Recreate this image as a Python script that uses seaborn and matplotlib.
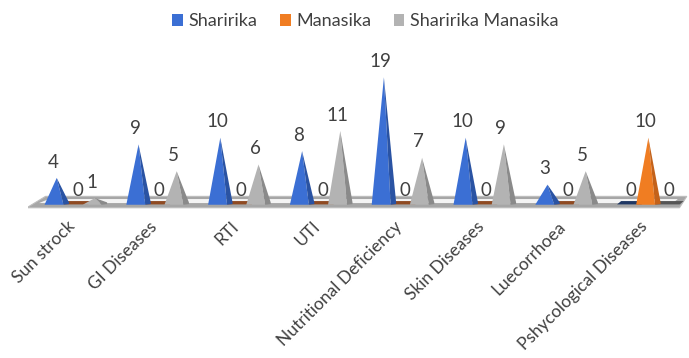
import matplotlib
matplotlib.use("Agg")
import matplotlib.pyplot as plt
from matplotlib.patches import Polygon, Patch
from matplotlib.transforms import ScaledTranslation
import pandas as pd
import seaborn as sns

# Disease counts by type
diseases = ["Sun strock", "GI Diseases", "RTI", "UTI", "Nutritional Deficiency",
            "Skin Diseases", "Luecorrhoea", "Pshycological Diseases"]
sharirika = [4, 9, 10, 8, 19, 10, 3, 0]
manasika = [0, 0, 0, 0, 0, 0, 0, 10]
sharirika_manasika = [1, 5, 6, 11, 7, 9, 5, 0]
series_names = ["Sharirika", "Manasika", "Sharirika Manasika"]

front_colors = ["#3b6fd4", "#f07d22", "#b3b3b3"]
side_colors = ["#2a53a3", "#c4621a", "#8a8a8a"]
flat_colors = ["#1f3763", "#8f4a22", "#555555"]
text_color = "#404040"

df = pd.DataFrame({
    "Disease": diseases * 3,
    "Count": sharirika + manasika + sharirika_manasika,
    "Type": [n for n in series_names for _ in diseases],
})

sns.set_theme(style="white")
plt.rcParams["font.family"] = ["Lato", "DejaVu Sans"]

fig = plt.figure(figsize=(6.89, 3.58), dpi=100)
ax = fig.add_axes([0.04, 0.40, 0.958, 0.44])

sns.barplot(data=df, x="Disease", y="Count", hue="Type", hue_order=series_names,
            palette=front_colors, width=0.7, legend=False, ax=ax)

# Floor slab under the marks
floor_outer = Polygon([(-0.6, -0.45), (7.38, -0.45), (7.47, 1.25), (-0.37, 1.25)],
                      closed=True, facecolor="#a6a6a6", edgecolor="#bdbdbd",
                      lw=0.8, zorder=1)
floor_inner = Polygon([(-0.45, 0.25), (7.3, 0.25), (7.36, 0.85), (-0.33, 0.85)],
                      closed=True, facecolor="#f4f4f4", edgecolor="none", zorder=1.2)
ax.add_patch(floor_outer)
ax.add_patch(floor_inner)

# Replace each bar with a shaded pyramid
for k, container in enumerate(ax.containers):
    for bar in container:
        x0 = bar.get_x()
        w = bar.get_width()
        h = bar.get_height()
        cx = x0 + w / 2
        hw = 0.64 * w
        bar.set_visible(False)
        if h > 0:
            split = cx + 0.55 * hw
            ax.add_patch(Polygon([(cx - hw, 0), (cx, h), (split, 0)], closed=True,
                                 facecolor=front_colors[k], edgecolor="none", zorder=3))
            ax.add_patch(Polygon([(split, 0), (cx, h), (cx + hw, 0.35), (cx + hw, 0.1)],
                                 closed=True, facecolor=side_colors[k],
                                 edgecolor="none", zorder=3))
            ax.text(cx - 0.04, h + 1.1, f"{h:g}", ha="center", va="bottom",
                    fontsize=13.5, color=text_color, zorder=5)
        else:
            ax.add_patch(Polygon([(cx - hw, 0.05), (cx + hw, 0.05), (cx + hw + 0.05, 0.55),
                                  (cx - hw + 0.05, 0.55)], closed=True,
                                 facecolor=flat_colors[k], edgecolor="none", zorder=2.5))
            ax.text(cx + 0.02, 0.9, "0", ha="center", va="bottom",
                    fontsize=13.5, color=text_color, zorder=5)

ax.set_xlim(-0.59, 7.48)
ax.set_ylim(-1.5, 22)
ax.set_xlabel("")
ax.set_ylabel("")
ax.set_yticks([])
ax.set_xticks(range(len(diseases)))
ax.set_xticklabels(diseases, rotation=45, ha="right", rotation_mode="anchor",
                   fontsize=12.5, color=text_color)
ax.tick_params(axis="x", length=0, pad=4)
shift = ScaledTranslation(-0.09, 0.02, fig.dpi_scale_trans)
for lbl in ax.get_xticklabels():
    lbl.set_transform(lbl.get_transform() + shift)
for s in ax.spines.values():
    s.set_visible(False)

handles = [Patch(facecolor=c, edgecolor="none") for c in front_colors]
fig.legend(handles, series_names, loc="center", bbox_to_anchor=(0.53, 0.94),
           ncol=3, frameon=False, fontsize=13, handlelength=0.6, handleheight=0.6,
           handletextpad=0.3, columnspacing=1.25, labelcolor=text_color)

fig.savefig("out.png", dpi=100)
